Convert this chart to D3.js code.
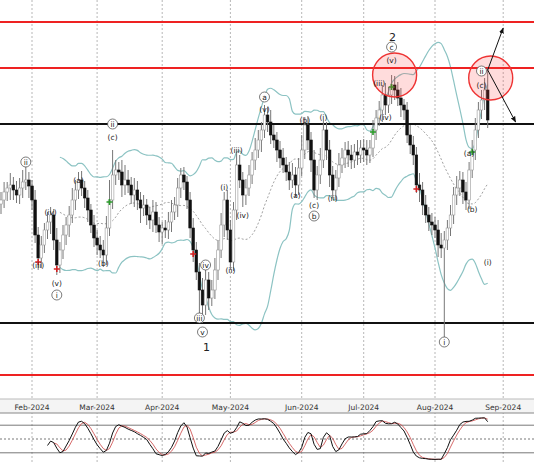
<!DOCTYPE html>
<html lang="en">
<head>
<meta charset="UTF-8" />
<title>Wave chart</title>
<script src="https://d3js.org/d3.v7.min.js"></script>
<style>
  body { margin: 0; background: #fff; }
  svg { display: block; font-family: "DejaVu Sans", Arial, sans-serif; }
</style>
</head>
<body>
<div id="viz"></div>
<script>
// --- Data (price in points) ---
const startDate = new Date(2024, 0, 18);
const closes = [175,183,187,190,185,180,187,193,195,189,175,140,117,130,145,153,160,135,110,125,
  140,150,160,175,185,195,187,177,165,150,137,130,125,120,147,175,200,205,203,190,
  195,190,180,185,175,167,170,160,155,163,150,143,147,145,153,163,170,187,200,193,
  175,147,125,103,85,70,95,77,85,105,125,150,175,145,113,165,210,195,180,187,
  200,215,225,235,245,260,253,240,235,225,217,210,203,195,200,190,207,225,250,235,
  215,185,200,215,245,225,200,185,197,210,217,225,220,215,223,220,227,225,220,227,
  245,257,265,280,270,280,290,285,277,270,265,240,230,220,190,185,170,160,153,150,
  145,130,127,135,147,160,180,187,195,183,175,205,225,245,265,275,285,255];
const wickUp = [8,10,6,12,8,9,10,12,15,8,6,10,8,9,7,10,8,6,12,8,
  10,8,9,12,10,8,9,7,8,6,10,8,9,10,12,20,25,10,8,12,
  15,10,8,12,9,8,10,6,8,12,10,8,6,8,10,12,8,10,7,8,
  6,8,10,8,9,12,10,8,10,12,10,12,8,10,10,8,12,10,8,9,
  10,8,12,10,8,10,8,12,10,8,9,10,8,10,12,8,10,15,8,9,
  8,10,9,12,10,8,10,9,8,12,10,8,9,10,8,12,8,9,10,8,
  10,8,9,10,12,8,10,9,8,10,6,8,10,9,8,12,8,10,8,9,
  8,10,12,9,8,10,8,12,9,8,10,8,10,12,8,10,12,22];
const wickDn = [10,8,9,12,10,8,9,10,8,12,10,8,12,10,8,9,12,10,10,8,
  9,10,12,8,10,9,8,10,12,8,9,10,8,12,10,8,9,10,8,12,
  10,8,9,12,10,15,8,10,9,12,8,10,12,8,9,10,8,12,10,8,
  9,10,12,8,30,18,10,12,8,9,10,8,12,10,8,9,10,8,12,10,
  8,9,10,8,12,8,10,9,8,12,10,8,9,10,8,12,10,8,9,10,
  12,8,10,9,8,10,12,8,10,9,8,10,12,9,8,10,8,12,10,8,
  9,10,8,12,10,8,9,10,8,12,10,8,9,10,8,12,10,8,9,10,
  8,12,10,90,10,8,9,10,8,12,10,9,8,10,8,9,10,8];
const monthLabels = ["Feb-2024","Mar-2024","Apr-2024","May-2024","Jun-2024","Jul-2024","Aug-2024","Sep-2024"];
const hLines = [{p:353, c:"#ee2222"}, {p:307, c:"#ee2222"}, {p:251, c:"#111"}, {p:52, c:"#111"}, {p:0, c:"#ee2222"}];
const buySignals = [35, 120, 126, 152];
const sellSignals = [12, 18, 62, 134];
// wave labels: bar index, price position, text, circled
const waveLabels = [
  [8,213,"ii",1],[12,110,"(iii)",0],[16,163,"(iv)",0],[18,92,"(v)",0],[18,80,"i",1],
  [25,195,"(a)",0],[33,112,"(b)",0],[36,238,"(c)",0],[36,251,"ii",1],
  [64,57,"iii",1],[66,110,"iv",1],[65,43,"v",1],
  [72,188,"(i)",0],[74,105,"(ii)",0],[76,225,"(iii)",0],[78,160,"(iv)",0],[85,266,"(v)",0],[85,278,"a",1],
  [95,180,"(a)",0],[98,255,"(b)",0],[101,170,"(c)",0],[101,159,"b",1],[104,258,"(i)",0],[107,177,"(ii)",0],
  [122,292,"(iii)",0],[124,258,"(iv)",0],[126,315,"(v)",0],[126,328,"c",1],
  [151,222,"(a)",0],[152,166,"(b)",0],[155,290,"(c)",0],[155,304,"ii",1],[157,113,"(i)",0],[143,33,"i",1]];
const bigLabels = [[126,338,"2"],[66,28,"1"]];

// --- Scales ---
const W = 534, H = 462;
const svg = d3.select("#viz").append("svg").attr("width", W).attr("height", H);
const x = d3.scaleLinear().domain([0, 1]).range([1, 4.1]);
const y = d3.scaleLinear().domain([0, 353]).range([375, 22]);
const yo = d3.scaleLinear().domain([0, 100]).range([462, 416]);

// trading days
const dates = [];
let d = new Date(startDate);
while (dates.length < 175) {
  if (d.getDay() !== 0 && d.getDay() !== 6) dates.push(new Date(d));
  d.setDate(d.getDate() + 1);
}
const monthTicks = [];
dates.forEach((dt, i) => { if (i > 0 && dt.getMonth() !== dates[i - 1].getMonth()) monthTicks.push(i); });

const bars = closes.map((c, i) => {
  const o = i === 0 ? c - 4 : closes[i - 1];
  return { i, o, c, h: Math.max(o, c) + wickUp[i], l: Math.min(o, c) - wickDn[i] };
});

// grid
svg.append("g").selectAll("line").data(monthTicks.slice(0, monthLabels.length)).join("line")
  .attr("x1", i => x(i)).attr("x2", i => x(i)).attr("y1", 0).attr("y2", H)
  .attr("stroke", "#999").attr("stroke-dasharray", "2,2").attr("stroke-width", 0.7);

// bollinger bands (20, 2)
const bb = [];
for (let i = 19; i < closes.length; i++) {
  const w = closes.slice(i - 19, i + 1);
  const m = d3.mean(w), s = d3.deviation(w) * Math.sqrt(19 / 20);
  bb.push({ i, m, u: m + 2 * s, l: m - 2 * s });
}
const clipG = svg.append("g");
clipG.append("clipPath").attr("id", "main").append("rect").attr("width", W).attr("height", 398);
const mainG = svg.append("g").attr("clip-path", "url(#main)");
const line = k => d3.line().x(p => x(p.i)).y(p => y(p[k])).curve(d3.curveMonotoneX)(bb);
mainG.append("path").attr("d", line("u")).attr("fill", "none").attr("stroke", "#8cc3c3").attr("stroke-width", 1.2);
mainG.append("path").attr("d", line("l")).attr("fill", "none").attr("stroke", "#8cc3c3").attr("stroke-width", 1.2);
mainG.append("path").attr("d", line("m")).attr("fill", "none").attr("stroke", "#888").attr("stroke-dasharray", "2,2").attr("stroke-width", 0.8);

// horizontal levels
mainG.selectAll(".hl").data(hLines).join("line")
  .attr("x1", 0).attr("x2", W).attr("y1", p => y(p.p)).attr("y2", p => y(p.p))
  .attr("stroke", p => p.c).attr("stroke-width", 2.2);

// candles
const cg = mainG.append("g");
cg.selectAll(".wick").data(bars).join("line")
  .attr("x1", b => x(b.i)).attr("x2", b => x(b.i)).attr("y1", b => y(b.h)).attr("y2", b => y(b.l))
  .attr("stroke", "#777").attr("stroke-width", 1);
cg.selectAll(".body").data(bars).join("rect")
  .attr("x", b => x(b.i) - 1.3).attr("width", 2.6)
  .attr("y", b => y(Math.max(b.o, b.c))).attr("height", b => Math.max(1, Math.abs(y(b.o) - y(b.c))))
  .attr("fill", b => b.c >= b.o ? "#fff" : "#111").attr("stroke", b => b.c >= b.o ? "#999" : "#111").attr("stroke-width", 0.6);

// signals
const cross = (g, idx, col, off) => g.selectAll(null).data(idx).join("path")
  .attr("d", i => { const cx = x(i), cy = y(closes[i]) + off; return `M${cx - 3},${cy}H${cx + 3}M${cx},${cy - 3}V${cy + 3}`; })
  .attr("stroke", col).attr("stroke-width", 1.6);
cross(mainG, buySignals, "#2a9a2a", 2);
cross(mainG, sellSignals, "#d42020", 4);

// circles + arrows
const circ = [[126, 300], [157, 297]];
mainG.selectAll(".zone").data(circ).join("circle")
  .attr("cx", p => x(p[0]) + 3).attr("cy", p => y(p[1])).attr("r", 22)
  .attr("fill", "rgba(255,60,60,0.18)").attr("stroke", "#e33").attr("stroke-width", 1.4);
svg.append("defs").append("marker").attr("id", "ah").attr("viewBox", "0 0 10 10").attr("refX", 9).attr("refY", 5)
  .attr("markerWidth", 6).attr("markerHeight", 6).attr("orient", "auto")
  .append("path").attr("d", "M0,1L10,5L0,9z").attr("fill", "#111");
const arrows = [[157, 305, 162, 347], [157, 305, 166, 253]];
mainG.selectAll(".arr").data(arrows).join("line")
  .attr("x1", a => x(a[0])).attr("y1", a => y(a[1])).attr("x2", a => x(a[2])).attr("y2", a => y(a[3]))
  .attr("stroke", "#111").attr("stroke-width", 1).attr("marker-end", "url(#ah)");

// wave labels
const lg = mainG.append("g").attr("font-size", 7.5).attr("text-anchor", "middle").attr("fill", "#222");
waveLabels.forEach(([i, p, t, c]) => {
  if (c) lg.append("circle").attr("cx", x(i)).attr("cy", y(p)).attr("r", 5).attr("fill", "#fff").attr("stroke", "#444").attr("stroke-width", 0.7);
  lg.append("text").attr("x", x(i)).attr("y", y(p) + 2.6).text(t);
});
bigLabels.forEach(([i, p, t]) => lg.append("text").attr("x", x(i) + 1).attr("y", y(p) + 4).attr("font-size", 11).text(t));

// date axis strip
svg.append("rect").attr("x", 0).attr("y", 399).attr("width", W).attr("height", 14).attr("fill", "#f4f4f4");
svg.append("line").attr("x1", 0).attr("x2", W).attr("y1", 399).attr("y2", 399).attr("stroke", "#bbb");
svg.append("line").attr("x1", 0).attr("x2", W).attr("y1", 413).attr("y2", 413).attr("stroke", "#888");
svg.append("g").selectAll("text").data(monthLabels).join("text")
  .attr("x", (t, k) => x(monthTicks[k])).attr("y", 409.5).attr("text-anchor", "middle")
  .attr("font-size", 7.5).attr("fill", "#333").text(t => t);

// stochastic (14,3,3)
const K = [];
for (let i = 13; i < bars.length; i++) {
  const w = bars.slice(i - 13, i + 1);
  const hh = d3.max(w, b => b.h), ll = d3.min(w, b => b.l);
  K.push({ i, v: 100 * (bars[i].c - ll) / (hh - ll) });
}
const sm = (arr, n) => arr.slice(n - 1).map((p, k) => ({ i: p.i, v: d3.mean(arr.slice(k, k + n), q => q.v) }));
const Ks = sm(K, 3), D = sm(Ks, 3);
[[80, null], [50, "2,2"], [20, null]].forEach(([lv, da]) => svg.append("line")
  .attr("x1", 0).attr("x2", W).attr("y1", yo(lv)).attr("y2", yo(lv)).attr("stroke", "#555").attr("stroke-width", 0.8).attr("stroke-dasharray", da));
const ol = d3.line().x(p => x(p.i)).y(p => yo(p.v));
svg.append("path").attr("d", ol(D)).attr("fill", "none").attr("stroke", "#c44").attr("stroke-width", 0.8);
svg.append("path").attr("d", ol(Ks)).attr("fill", "none").attr("stroke", "#111").attr("stroke-width", 1);
</script>
</body>
</html>
